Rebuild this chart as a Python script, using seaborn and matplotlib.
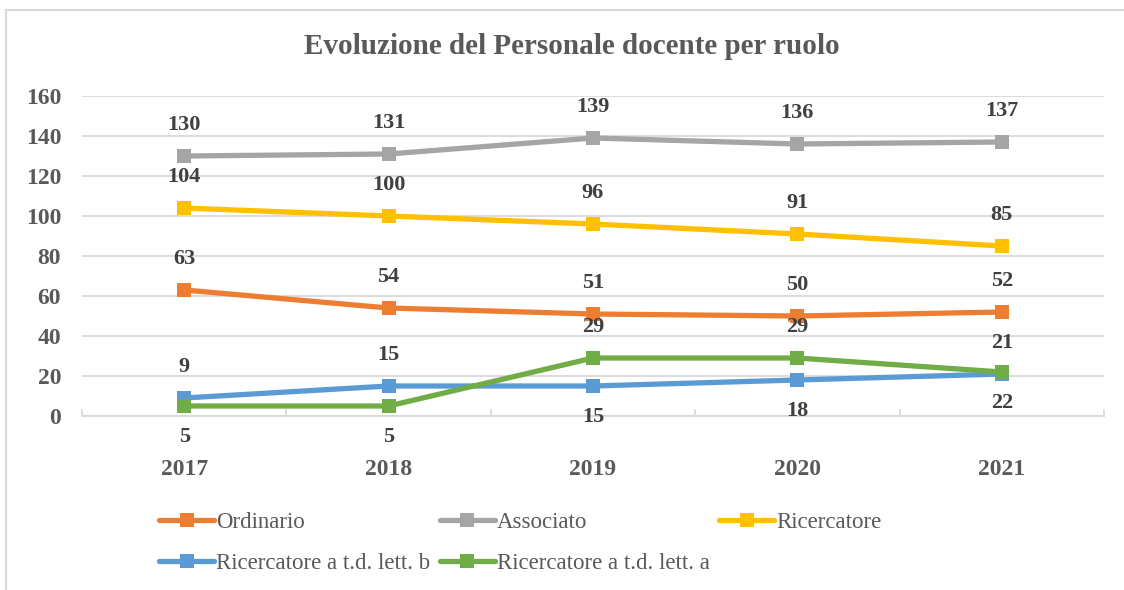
import matplotlib
matplotlib.use("Agg")
import matplotlib.pyplot as plt
import seaborn as sns
import pandas as pd
from matplotlib.lines import Line2D
from matplotlib.patches import Rectangle

years = ["2017", "2018", "2019", "2020", "2021"]
series_names = ["Ordinario", "Associato", "Ricercatore",
                "Ricercatore a t.d. lett. b", "Ricercatore a t.d. lett. a"]
ordinario = [63, 54, 51, 50, 52]
associato = [130, 131, 139, 136, 137]
ricercatore = [104, 100, 96, 91, 85]
rtd_b = [9, 15, 15, 18, 21]
rtd_a = [5, 5, 29, 29, 22]
values = [ordinario, associato, ricercatore, rtd_b, rtd_a]
colors = ["#ED7D31", "#A5A5A5", "#FFC000", "#5B9BD5", "#70AD47"]
# label placement: +1 above, -1 below
label_side = [
    [1, 1, 1, 1, 1],
    [1, 1, 1, 1, 1],
    [1, 1, 1, 1, 1],
    [1, 1, -1, -1, 1],
    [-1, -1, 1, 1, -1],
]

rows = []
for name, vals in zip(series_names, values):
    for i, (yr, v) in enumerate(zip(years, vals)):
        rows.append({"serie": name, "pos": i, "anno": yr, "valore": v})
df = pd.DataFrame(rows)

sns.set_theme(style="white")
plt.rcParams["font.family"] = ["Liberation Serif", "DejaVu Serif"]

fig = plt.figure(figsize=(11.24, 5.90), dpi=100)
ax = fig.add_axes([82 / 1124, 1 - 416 / 590, (1104 - 82) / 1124, (416 - 96) / 590])

for name, col in zip(series_names, colors):
    sub = df[df["serie"] == name]
    sns.lineplot(data=sub, x="pos", y="valore", ax=ax, color=col,
                 linewidth=3.8, marker="s", markersize=10,
                 markeredgewidth=0, legend=False, zorder=3)

for vals, sides in zip(values, label_side):
    for i, (v, s) in enumerate(zip(vals, sides)):
        ax.annotate(str(v), (i, v), xytext=(0, 22 * s), textcoords="offset points",
                    ha="center", va="center", fontsize=16, fontweight="bold",
                    color="#404040", zorder=4)

ax.set_xlim(-0.5, 4.5)
ax.set_ylim(0, 160)
ax.set_yticks(range(0, 161, 20))
ax.set_xticks(range(len(years)))
ax.set_xticklabels(years)
ax.set_xlabel("")
ax.set_ylabel("")
ax.grid(axis="y", color="#d9d9d9", linewidth=1.3)
ax.grid(axis="x", visible=False)
for sp in ["top", "right", "left"]:
    ax.spines[sp].set_visible(False)
ax.spines["bottom"].set_color("#d9d9d9")
ax.spines["bottom"].set_linewidth(1.3)
ax.tick_params(axis="y", length=0, pad=15, labelsize=17, labelcolor="#595959")
ax.tick_params(axis="x", length=0, pad=31, labelsize=17, labelcolor="#595959")
for lab in ax.get_xticklabels() + ax.get_yticklabels():
    lab.set_fontweight("bold")
# inward category boundary ticks
for b in [-0.5, 0.5, 1.5, 2.5, 3.5, 4.5]:
    ax.plot([b, b], [0, 3], color="#d9d9d9", linewidth=1.3, clip_on=False, zorder=2)

fig.text(572 / 1124, 1 - 47 / 590, "Evoluzione del Personale docente per ruolo",
         ha="center", va="center", fontsize=21, fontweight="bold", color="#595959")

handles = [Line2D([0], [0], color=c, linewidth=3.8, marker="s", markersize=10,
                  markeredgewidth=0) for c in colors]
order = [0, 3, 1, 4, 2]
fig.legend([handles[i] for i in order], [series_names[i] for i in order],
           ncol=3, loc="upper left", bbox_to_anchor=(150 / 1124, 1 - 503 / 590),
           frameon=False, fontsize=16.5, labelcolor="#595959",
           handlelength=2.4, handletextpad=0.1, columnspacing=0.4,
           labelspacing=0.85, borderaxespad=0)

fig.patches.append(Rectangle((6 / 1124, -0.1), 1.2, 1 - 10 / 590 + 0.1,
                             transform=fig.transFigure, fill=False,
                             edgecolor="#d9d9d9", linewidth=1.5))

fig.savefig("out.png", dpi=100)
